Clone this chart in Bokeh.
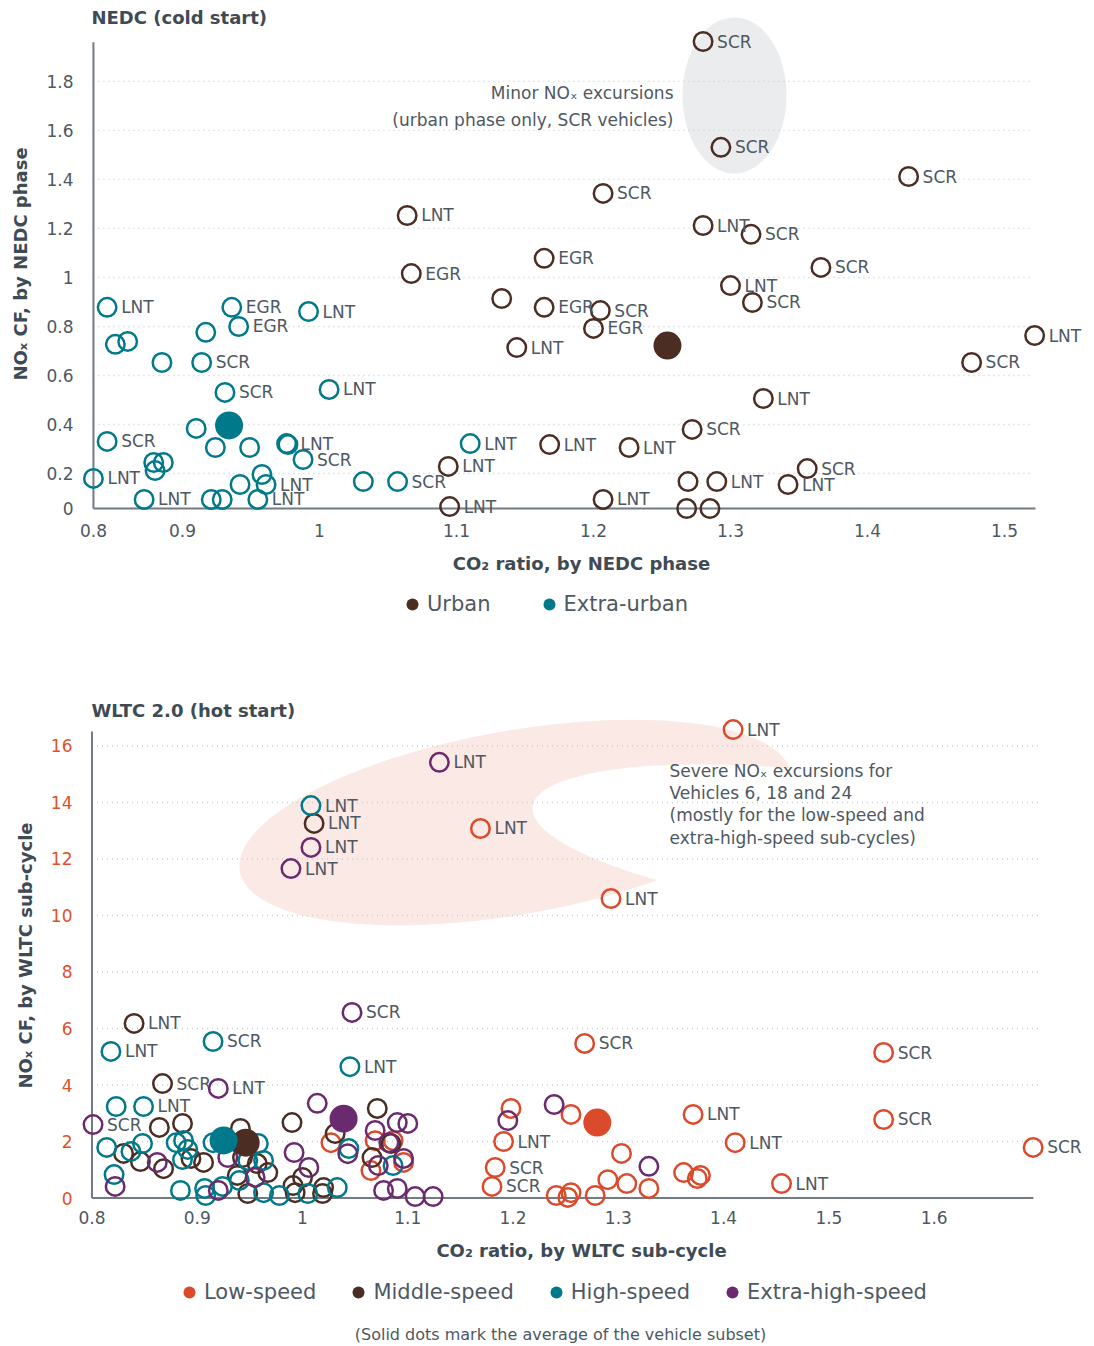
import numpy as np
from bokeh.plotting import figure
from bokeh.models import (Range1d, FixedTicker, CustomJSTickFormatter,
                          Label, Legend, LegendItem)
from bokeh.layouts import column
from bokeh.embed import file_html
from bokeh.resources import INLINE
from bokeh.core.properties import value

FONT = "DejaVu Sans"
TXT = "#4e5862"
TITLE = "#3e4a54"
AX = "#737b82"
GRID = "#c9cdd0"
BROWN = "#4b2d23"
TEAL = "#00798a"
ORANGE = "#dc4a2c"
PURPLE = "#6b2a6e"
PINK = "#fbe9e5"
GREYB = "#ebecee"
YTICK2 = "#e0512e"
W = 1094
FRAME_L, FRAME_R = 78, 1084

# ---------------- NEDC (cold start) ----------------
nedc_urban_x = [1.280, 1.293, 1.430, 1.207, 1.064, 1.280, 1.315, 1.164, 1.067, 1.366, 1.133,
                1.300, 1.316, 1.164, 1.205, 1.200, 1.144, 1.522, 1.476, 1.324, 1.272, 1.168,
                1.226, 1.094, 1.356, 1.342, 1.269, 1.290, 1.207, 1.095, 1.268, 1.285]
nedc_urban_y = [1.963, 1.531, 1.412, 1.343, 1.253, 1.212, 1.176, 1.078, 1.016, 1.041, 0.914,
                0.967, 0.898, 0.878, 0.865, 0.792, 0.714, 0.763, 0.653, 0.506, 0.380, 0.318,
                0.306, 0.229, 0.220, 0.155, 0.167, 0.167, 0.094, 0.065, 0.057, 0.057]
nedc_urban_tech = ["SCR", "SCR", "SCR", "SCR", "LNT", "LNT", "SCR", "EGR", "EGR", "SCR", "",
                   "LNT", "SCR", "EGR", "SCR", "EGR", "LNT", "LNT", "SCR", "LNT", "SCR", "LNT",
                   "LNT", "LNT", "SCR", "LNT", "", "LNT", "LNT", "LNT", "", ""]
nedc_urban_avg = [1.254, 0.722]

nedc_extra_x = [0.845, 0.936, 0.992, 0.941, 0.917, 0.851, 0.860, 0.885, 0.914, 0.931, 1.007,
                0.910, 0.845, 0.924, 0.949, 0.976, 0.977, 0.988, 0.879, 0.886, 0.880, 0.835,
                0.958, 0.942, 0.961, 0.872, 0.921, 0.929, 0.955, 1.032, 1.057, 1.110]
nedc_extra_y = [0.878, 0.878, 0.861, 0.800, 0.776, 0.727, 0.739, 0.653, 0.653, 0.531, 0.543,
                0.384, 0.331, 0.306, 0.306, 0.322, 0.318, 0.257, 0.245, 0.245, 0.212, 0.180,
                0.196, 0.155, 0.155, 0.094, 0.094, 0.094, 0.094, 0.167, 0.167, 0.322]
nedc_extra_tech = ["LNT", "EGR", "LNT", "EGR", "", "", "", "", "SCR", "SCR", "LNT",
                   "", "SCR", "", "", "LNT", "", "SCR", "", "", "", "LNT",
                   "", "", "LNT", "LNT", "", "", "LNT", "", "SCR", "LNT"]
nedc_extra_avg = [0.934, 0.396]

nedc_xticks = [0.835, 0.9, 1.0, 1.1, 1.2, 1.3, 1.4, 1.5]
nedc_xlabels = ["0.8", "0.9", "1", "1.1", "1.2", "1.3", "1.4", "1.5"]
nedc_yticks = [0.057, 0.2, 0.4, 0.6, 0.8, 1.0, 1.2, 1.4, 1.6, 1.8]
nedc_ylabels = ["0", "0.2", "0.4", "0.6", "0.8", "1", "1.2", "1.4", "1.6", "1.8"]
nedc_grid = [0.2, 0.4, 0.6, 0.8, 1.0, 1.2, 1.4, 1.6, 1.8]
nedc_axis_x = [0.835, 1.5226]
nedc_axis_y = [0.057, 1.96]
nedc_series = ["Urban", "Extra-urban"]

# ---------------- WLTC 2.0 (hot start) ----------------
low_x = [1.409, 1.169, 1.293, 1.268, 1.552, 1.552, 1.694, 1.371, 1.411, 1.455, 1.198, 1.191,
         1.183, 1.180, 1.255, 1.303, 1.290, 1.308, 1.329, 1.278, 1.241, 1.252, 1.255, 1.362,
         1.375, 1.378, 1.027, 1.069, 1.086, 1.065, 1.096]
low_y = [16.58, 13.08, 10.60, 5.47, 5.15, 2.78, 1.79, 2.96, 1.96, 0.51, 3.17, 2.00,
         1.08, 0.41, 2.96, 1.58, 0.65, 0.51, 0.34, 0.09, 0.09, 0.02, 0.19, 0.90,
         0.69, 0.80, 1.96, 2.03, 2.03, 0.97, 1.26]
low_tech = ["LNT", "LNT", "LNT", "SCR", "SCR", "SCR", "SCR", "LNT", "LNT", "LNT", "", "LNT",
            "SCR", "SCR", "", "", "", "", "", "", "", "", "", "",
            "", "", "", "", "", "", ""]
low_avg = [1.280, 2.67]

mid_x = [1.011, 0.840, 0.867, 0.864, 0.886, 0.990, 0.941, 0.830, 0.894, 0.846, 0.868, 0.906,
         0.943, 0.957, 0.938, 0.967, 1.000, 0.991, 1.020, 0.948, 0.993, 1.019, 1.031, 1.071,
         1.066, 1.084]
mid_y = [13.26, 6.18, 4.05, 2.50, 2.64, 2.67, 2.46, 1.58, 1.40, 1.29, 1.04, 1.26,
         1.43, 1.22, 0.80, 0.90, 0.73, 0.44, 0.37, 0.16, 0.19, 0.16, 2.28, 3.17,
         1.43, 1.93]
mid_tech = ["LNT", "LNT", "SCR"] + [""] * 23
mid_avg = [0.946, 1.96]

high_x = [1.008, 0.818, 0.915, 1.045, 0.823, 0.849, 0.814, 0.848, 0.837, 0.880, 0.887, 0.891,
          0.886, 0.915, 0.948, 0.958, 0.963, 0.821, 0.940, 1.033, 0.884, 0.907, 0.908, 0.924,
          0.963, 0.978, 1.005, 1.044, 1.086]
high_y = [13.89, 5.19, 5.54, 4.65, 3.24, 3.24, 1.79, 1.93, 1.65, 1.96, 2.04, 1.72,
          1.36, 1.96, 1.33, 1.93, 1.33, 0.83, 0.62, 0.37, 0.27, 0.34, 0.09, 0.41,
          0.19, 0.09, 0.16, 1.75, 1.15]
high_tech = ["LNT", "LNT", "SCR", "LNT", "", "LNT"] + [""] * 23
high_avg = [0.925, 2.04]

xhigh_x = [1.130, 1.008, 0.989, 1.047, 0.920, 0.801, 1.014, 0.862, 0.929, 0.992, 1.006, 0.822,
           0.955, 0.920, 1.239, 1.195, 1.329, 1.090, 1.100, 1.069, 1.082, 1.077, 1.090, 1.107,
           1.124, 1.096, 1.072, 1.043]
xhigh_y = [15.42, 12.41, 11.66, 6.57, 3.88, 2.60, 3.35, 1.26, 1.43, 1.61, 1.08, 0.41,
           0.73, 0.27, 3.31, 2.74, 1.12, 2.67, 2.64, 2.39, 1.96, 0.27, 0.34, 0.05,
           0.05, 1.40, 1.15, 1.57]
xhigh_tech = ["LNT", "LNT", "LNT", "SCR", "LNT", "SCR"] + [""] * 22
xhigh_avg = [1.039, 2.81]

wltc_xticks = [0.8, 0.9, 1.0, 1.1, 1.2, 1.3, 1.4, 1.5, 1.6]
wltc_xlabels = ["0.8", "0.9", "1", "1.1", "1.2", "1.3", "1.4", "1.5", "1.6"]
wltc_yticks = [0, 2, 4, 6, 8, 10, 12, 14, 16]
wltc_ylabels = ["0", "2", "4", "6", "8", "10", "12", "14", "16"]
wltc_grid = [2, 4, 6, 8, 10, 12, 14, 16]
wltc_axis_x = [0.8, 1.6943]
wltc_axis_y = [0.0, 16.51]
wltc_series = ["Low-speed", "Middle-speed", "High-speed", "Extra-high-speed"]

NEAREST = """
let b = 0;
for (let i = 0; i < vals.length; i++) {
  if (Math.abs(vals[i] - tick) < Math.abs(vals[b] - tick)) { b = i; }
}
return labs[b];
"""


def style_axes(p, xt, xl, yt, yl, xlabel, ylabel, ytick_color, xstand, ystand):
    xa = p.xaxis[0]
    ya = p.yaxis[0]
    xa.ticker = FixedTicker(ticks=xt)
    ya.ticker = FixedTicker(ticks=yt)
    xa.formatter = CustomJSTickFormatter(args=dict(vals=xt, labs=xl), code=NEAREST)
    ya.formatter = CustomJSTickFormatter(args=dict(vals=yt, labs=yl), code=NEAREST)
    for a in (xa, ya):
        a.axis_line_color = None
        a.major_tick_line_color = None
        a.minor_tick_line_color = None
        a.major_tick_out = 0
        a.major_tick_in = 0
        a.minor_tick_out = 0
        a.minor_tick_in = 0
        a.major_label_text_font = FONT
        a.major_label_text_font_size = "17px"
        a.axis_label_text_font = FONT
        a.axis_label_text_font_style = "bold"
        a.axis_label_text_font_size = "18px"
        a.axis_label_text_color = TITLE
    xa.major_label_text_color = TXT
    ya.major_label_text_color = ytick_color
    xa.major_label_standoff = xstand
    ya.major_label_standoff = ystand
    xa.axis_label = xlabel
    ya.axis_label = ylabel
    xa.axis_label_standoff = 13
    ya.axis_label_standoff = 12
    p.xgrid.visible = False
    p.ygrid.visible = False
    p.outline_line_color = None


def draw_frame(p, ax_x, ax_y, grid_vals, grid_end):
    n = len(grid_vals)
    p.segment(x0=[ax_x[0]] * n, y0=grid_vals, x1=[grid_end] * n, y1=grid_vals,
              line_color=GRID, line_width=1.3, line_dash="1 4")
    p.segment(x0=[ax_x[0], ax_x[0]], y0=[ax_y[0], ax_y[0]], x1=[ax_x[1], ax_x[0]],
              y1=[ax_y[0], ax_y[1]], line_color=AX, line_width=2)


def add_series(p, xs, ys, tech, color):
    p.scatter(xs, ys, size=18.5, marker="circle", fill_color=None,
              line_color=color, line_width=2.5)
    lx = [x for x, t in zip(xs, tech) if t]
    ly = [y for y, t in zip(ys, tech) if t]
    lt = [t for t in tech if t]
    p.text(x=lx, y=ly, text=lt, x_offset=14, text_baseline="middle", text_align="left",
           text_font=value(FONT), text_font_size="17px", text_color=TXT)


def add_avg(p, avg, color):
    p.scatter([avg[0]], [avg[1]], size=28, marker="circle", fill_color=color, line_color=None)


def add_label(p, x, y, dx, dy, text, size="17px", bold=False, align="left", color=TXT):
    p.add_layout(Label(x=x, y=y, x_offset=dx, y_offset=dy, text=text, text_font=FONT,
                       text_font_size=size, text_font_style="bold" if bold else "normal",
                       text_color=color, text_align=align, text_baseline="middle"))


def legend_fig(height, names, colors, avgs, loc, spacing):
    # legend strip; its frame is aligned with the charts above (page x 78..1084)
    f = figure(width=W, height=height, x_range=Range1d(FRAME_L, FRAME_R),
               y_range=Range1d(0, height), output_backend="svg", toolbar_location=None,
               x_axis_type=None, y_axis_type=None, min_border=0)
    f.outline_line_color = None
    items = []
    for nm, c, a in zip(names, colors, avgs):
        # proxy of the subset-average dot (its CO2 ratio lies outside this strip's range)
        r = f.scatter(x=[a[0]], y=[a[1]], marker="circle", size=12, fill_color=c,
                      line_color=None)
        items.append(LegendItem(label=nm, renderers=[r]))
    f.add_layout(Legend(items=items, orientation="horizontal", location=loc, glyph_width=30,
                        glyph_height=30, label_text_font=FONT, label_text_font_size="21px",
                        label_text_color=TXT, label_standoff=0, spacing=spacing, padding=0,
                        margin=0, border_line_color=None, background_fill_alpha=0), "center")
    return f


# ================= top figure =================
x1r = (0.8241, 1.5584)
y1r = (0.0, 2.110)
p1 = figure(width=W, height=582, x_range=Range1d(*x1r), y_range=Range1d(*y1r),
            output_backend="svg", toolbar_location=None, min_border_left=FRAME_L,
            min_border_right=W - FRAME_R, min_border_top=5, min_border_bottom=60)
style_axes(p1, nedc_xticks, nedc_xlabels, nedc_yticks, nedc_ylabels,
           "CO\u2082 ratio, by NEDC phase", "NO\u2093 CF, by NEDC phase", TXT, 1, 5)

p1.ellipse(x=[1.3029], y=[1.743], width=[104], height=[156], width_units="screen",
           height_units="screen", angle=0.0, fill_color=GREYB, line_color=None)
draw_frame(p1, nedc_axis_x, nedc_axis_y, nedc_grid, 1.52)

add_series(p1, nedc_urban_x, nedc_urban_y, nedc_urban_tech, BROWN)
add_series(p1, nedc_extra_x, nedc_extra_y, nedc_extra_tech, TEAL)
add_avg(p1, nedc_urban_avg, BROWN)
add_avg(p1, nedc_extra_avg, TEAL)

add_label(p1, x1r[0], y1r[0], 13, 505, "NEDC (cold start)", size="18px", bold=True,
          color=TITLE)
add_label(p1, 1.2584, 1.751, 0, 0, "Minor NO\u2093 excursions", align="right")
add_label(p1, 1.2584, 1.641, 0, 0, "(urban phase only, SCR vehicles)", align="right")

l1 = legend_fig(46, nedc_series, [BROWN, TEAL], [nedc_urban_avg, nedc_extra_avg],
                (319, 9), 43)

# ================= bottom figure =================
x2r = (0.7872, 1.7428)
y2r = (-0.442, 17.61)
p2 = figure(width=W, height=642, x_range=Range1d(*x2r), y_range=Range1d(*y2r),
            output_backend="svg", toolbar_location=None, min_border_left=FRAME_L,
            min_border_right=W - FRAME_R, min_border_top=72, min_border_bottom=60)
style_axes(p2, wltc_xticks, wltc_xlabels, wltc_yticks, wltc_ylabels,
           "CO\u2082 ratio, by WLTC sub-cycle", "NO\u2093 CF, by WLTC sub-cycle", YTICK2, 0, 6)

p2.ellipse(x=[1.2023], y=[13.29], width=[560], height=[184], width_units="screen",
           height_units="screen", angle=0.175, fill_color=PINK, line_color=None)
p2.ellipse(x=[1.5015], y=[12.58], width=[600], height=[140], width_units="screen",
           height_units="screen", angle=-0.12, fill_color="white", line_color=None)
draw_frame(p2, wltc_axis_x, wltc_axis_y, wltc_grid, 1.70)

add_series(p2, low_x, low_y, low_tech, ORANGE)
add_series(p2, mid_x, mid_y, mid_tech, BROWN)
add_series(p2, high_x, high_y, high_tech, TEAL)
add_series(p2, xhigh_x, xhigh_y, xhigh_tech, PURPLE)
add_avg(p2, low_avg, ORANGE)
add_avg(p2, mid_avg, BROWN)
add_avg(p2, high_avg, TEAL)
add_avg(p2, xhigh_avg, PURPLE)

add_label(p2, x2r[0], y2r[0], 13, 500, "WLTC 2.0 (hot start)", size="18px", bold=True,
          color=TITLE)
ann = ["Severe NO\u2093 excursions for", "Vehicles 6, 18 and 24",
       "(mostly for the low-speed and", "extra-high-speed sub-cycles)"]
ann_y = [15.13, 14.35, 13.54, 12.76]
for t, yy in zip(ann, ann_y):
    add_label(p2, 1.3486, yy, 0, 0, t)

l2 = legend_fig(74, wltc_series, [ORANGE, BROWN, TEAL, PURPLE],
                [low_avg, mid_avg, high_avg, xhigh_avg], (96, 37), 27)
add_label(l2, 560, 10, 0, 0, "(Solid dots mark the average of the vehicle subset)",
          size="16px", align="center")

layout = column(p1, l1, p2, l2)
open("out.html", "w").write(file_html(layout, INLINE))
